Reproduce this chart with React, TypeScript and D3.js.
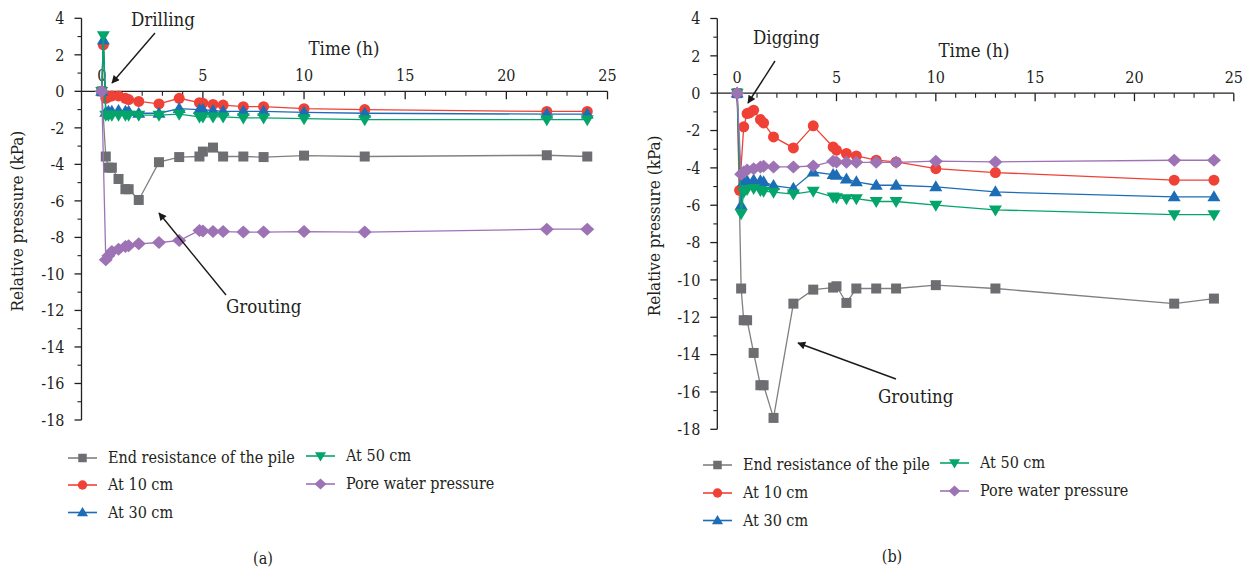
import React from "react";
import * as d3 from "d3";

// Sampling times (h)
const hoursPeak = [0, 0.08, 0.2, 0.33, 0.5, 0.83, 1.17, 1.33, 1.83, 2.83, 3.83, 4.83, 5, 5.5, 6, 7, 8, 10, 13, 22, 24];
const hoursMain = [0, 0.2, 0.33, 0.5, 0.83, 1.17, 1.33, 1.83, 2.83, 3.83, 4.83, 5, 5.5, 6, 7, 8, 10, 13, 22, 24];
const hoursDig = [0, 0.12, 0.33, 0.5, 0.62, 0.83, 1.17, 1.33, 1.83, 2.83, 3.83, 4.83, 5, 5.5, 6, 7, 8, 10, 13, 22, 24];

// (a) drilling — relative pressure (kPa)
const drillEnd = [0, -3.57, -4.18, -4.18, -4.8, -5.36, -5.36, -5.95, -3.88, -3.6, -3.57, -3.3, -3.08, -3.57, -3.57, -3.6, -3.52, -3.57, -3.5, -3.57];
const drill10 = [0, 2.55, -0.38, -0.3, -0.25, -0.25, -0.38, -0.45, -0.55, -0.69, -0.38, -0.62, -0.65, -0.72, -0.75, -0.84, -0.84, -0.95, -1.0, -1.1, -1.1];
const drill30 = [0, 2.8, -1.15, -1.1, -1.1, -1.05, -1.1, -1.1, -1.2, -1.2, -0.95, -1.0, -1.0, -1.05, -1.1, -1.1, -1.1, -1.15, -1.2, -1.25, -1.25];
const drill50 = [0, 3.05, -1.3, -1.3, -1.3, -1.3, -1.3, -1.3, -1.3, -1.3, -1.25, -1.4, -1.4, -1.4, -1.4, -1.45, -1.45, -1.5, -1.55, -1.55, -1.55];
const drillPore = [0, -9.23, -9.0, -8.77, -8.65, -8.5, -8.45, -8.35, -8.28, -8.17, -7.62, -7.65, -7.68, -7.68, -7.71, -7.71, -7.68, -7.71, -7.55, -7.55];

// (b) digging — relative pressure (kPa)
const digEnd = [0, -10.46, -12.16, -12.16, -13.91, -15.64, -15.64, -17.39, -11.27, -10.52, -10.41, -10.34, -11.23, -10.46, -10.46, -10.46, -10.28, -10.46, -11.27, -11.0];
const dig10 = [0, -5.2, -1.8, -1.09, -1.05, -0.91, -1.41, -1.59, -2.34, -2.93, -1.75, -2.88, -3.05, -3.23, -3.36, -3.59, -3.68, -4.04, -4.25, -4.66, -4.66];
const dig30 = [0, -6.0, -4.75, -4.7, -4.66, -4.7, -4.75, -4.95, -5.1, -4.22, -4.36, -4.4, -4.6, -4.75, -4.93, -4.93, -5.02, -5.29, -5.55, -5.55];
const dig50 = [0, -6.45, -5.3, -5.15, -5.1, -5.2, -5.25, -5.3, -5.4, -5.25, -5.55, -5.6, -5.65, -5.65, -5.8, -5.8, -6.0, -6.25, -6.5, -6.5];
const digPore = [0, -4.34, -4.22, -4.12, -4.04, -3.95, -3.91, -3.95, -3.95, -3.9, -3.64, -3.68, -3.7, -3.7, -3.7, -3.7, -3.64, -3.68, -3.59, -3.59];

const seriesNames = ["End resistance of the pile", "At 10 cm", "At 30 cm", "At 50 cm", "Pore water pressure"];
const xTicks = [0, 5, 10, 15, 20, 25];
const yTicks = [4, 2, 0, -2, -4, -6, -8, -10, -12, -14, -16, -18];

type Marker = "square" | "circle" | "up" | "down" | "diamond";
const styles: { line: string; fill: string; marker: Marker }[] = [
  { line: "#808080", fill: "#6d6e71", marker: "square" },
  { line: "#ef4136", fill: "#ef4136", marker: "circle" },
  { line: "#1d6db6", fill: "#1d6db6", marker: "up" },
  { line: "#04a56b", fill: "#04a56b", marker: "down" },
  { line: "#9d73b5", fill: "#9d73b5", marker: "diamond" },
];

const FONT = "'DejaVu Serif Condensed', 'DejaVu Serif', serif";

function MarkerShape({ kind, x, y, fill, scale = 1 }: { kind: Marker; x: number; y: number; fill: string; scale?: number }) {
  const s = scale;
  if (kind === "square") return <rect x={x - 5 * s} y={y - 5 * s} width={10 * s} height={10 * s} fill={fill} />;
  if (kind === "circle") return <circle cx={x} cy={y} r={5.5 * s} fill={fill} />;
  if (kind === "up") {
    const h = 11 * s, w = 6.5 * s;
    return <path d={`M${x},${y - h * 0.6}L${x + w},${y + h * 0.4}L${x - w},${y + h * 0.4}Z`} fill={fill} />;
  }
  if (kind === "down") {
    const h = 11 * s, w = 6.5 * s;
    return <path d={`M${x},${y + h * 0.6}L${x + w},${y - h * 0.4}L${x - w},${y - h * 0.4}Z`} fill={fill} />;
  }
  const a = 7 * s, b = 6.5 * s;
  return <path d={`M${x},${y - b}L${x + a},${y}L${x},${y + b}L${x - a},${y}Z`} fill={fill} />;
}

type PanelProps = {
  xRange: [number, number];
  yRange: [number, number];
  data: { hours: number[]; values: number[] }[];
  note: { text: string; tx: number; ty: number; from: [number, number]; to: [number, number] }[];
  yLabelX: number;
  titleX: number;
  titleY: number;
  legend: { x1: number; x2: number; rows: number[]; rows2: number[] };
  caption: { x: number; y: number; text: string };
  id: string;
};

function Panel(p: PanelProps) {
  const x = d3.scaleLinear().domain([-1, 25]).range(p.xRange);
  const y = d3.scaleLinear().domain([4, -18]).range(p.yRange);
  const axisX = p.xRange[0];
  const y0 = y(0);
  const minorX = d3.range(1, 25).filter((v) => v % 5 !== 0);
  const minorY = d3.range(-17, 4, 2);
  const line = d3
    .line<[number, number]>()
    .x((d) => x(d[0]))
    .y((d) => y(d[1]));

  return (
    <g>
      <defs>
        <marker id={`arrow-${p.id}`} viewBox="0 0 10 10" refX="9" refY="5" markerWidth="11" markerHeight="8" markerUnits="userSpaceOnUse" orient="auto">
          <path d="M0,0L10,5L0,10Z" fill="#1a1a1a" />
        </marker>
      </defs>
      {/* y axis */}
      <line x1={axisX} x2={axisX} y1={y(4)} y2={y(-18)} stroke="#231f20" strokeWidth={1.3} />
      {yTicks.map((t) => (
        <g key={`yt${t}`}>
          <line x1={axisX - 7} x2={axisX} y1={y(t)} y2={y(t)} stroke="#231f20" strokeWidth={1.3} />
          <text x={axisX - 17} y={y(t)} dy="0.36em" textAnchor="end" fontSize={16} fontFamily={FONT} fill="#231f20">
            {String(t)}
          </text>
        </g>
      ))}
      {minorY.map((t) => (
        <line key={`ym${t}`} x1={axisX - 4} x2={axisX} y1={y(t)} y2={y(t)} stroke="#231f20" strokeWidth={1.1} />
      ))}
      <text
        transform={`translate(${p.yLabelX},${(y(4) + y(-18)) / 2 + 2}) rotate(-90)`}
        textAnchor="middle"
        fontSize={17}
        fontFamily={FONT}
        fill="#231f20"
      >
        Relative pressure (kPa)
      </text>
      {/* x axis at zero */}
      <line x1={axisX} x2={x(25)} y1={y0} y2={y0} stroke="#231f20" strokeWidth={1.3} />
      {xTicks.map((t) => (
        <g key={`xt${t}`}>
          <line x1={x(t)} x2={x(t)} y1={y0} y2={y0 + 8} stroke="#231f20" strokeWidth={1.3} />
          <text x={x(t)} y={y0 - 10} textAnchor="middle" fontSize={16} fontFamily={FONT} fill="#231f20">
            {String(t)}
          </text>
        </g>
      ))}
      {minorX.map((t) => (
        <line key={`xm${t}`} x1={x(t)} x2={x(t)} y1={y0} y2={y0 + 4.5} stroke="#231f20" strokeWidth={1.1} />
      ))}
      <text x={p.titleX} y={p.titleY} textAnchor="middle" fontSize={18.5} fontFamily={FONT} fill="#231f20">
        Time (h)
      </text>
      {/* series */}
      {p.data.map((s, i) => {
        const pts = s.hours.map((h, k) => [h, s.values[k]] as [number, number]);
        return (
          <g key={`s${i}`}>
            <path d={line(pts) || ""} fill="none" stroke={styles[i].line} strokeWidth={1.3} />
            {pts.map((d, k) => (
              <MarkerShape key={k} kind={styles[i].marker} x={x(d[0])} y={y(d[1])} fill={styles[i].fill} />
            ))}
          </g>
        );
      })}
      {/* annotations */}
      {p.note.map((n, i) => (
        <g key={`n${i}`}>
          <line x1={n.from[0]} y1={n.from[1]} x2={n.to[0]} y2={n.to[1]} stroke="#1a1a1a" strokeWidth={1.4} markerEnd={`url(#arrow-${p.id})`} />
          <text x={n.tx} y={n.ty} fontSize={18.5} fontFamily={FONT} fill="#231f20">
            {n.text}
          </text>
        </g>
      ))}
      {/* legend */}
      {seriesNames.map((name, i) => {
        const col = i < 3 ? 0 : 1;
        const lx = col === 0 ? p.legend.x1 : p.legend.x2;
        const ly = col === 0 ? p.legend.rows[i] : p.legend.rows2[i - 3];
        return (
          <g key={`l${i}`}>
            <line x1={lx} x2={lx + 29} y1={ly} y2={ly} stroke={styles[i].line} strokeWidth={1.6} />
            <MarkerShape kind={styles[i].marker} x={lx + 14.5} y={ly} fill={styles[i].fill} scale={0.85} />
            <text x={lx + 40} y={ly} dy="0.34em" fontSize={16} fontFamily={FONT} fill="#231f20">
              {name}
            </text>
          </g>
        );
      })}
      <text x={p.caption.x} y={p.caption.y} dy="0.34em" textAnchor="middle" fontSize={16} fontFamily={FONT} fill="#231f20">
        {p.caption.text}
      </text>
    </g>
  );
}

export default function App() {
  return (
    <svg width={1253} height={573} style={{ position: "absolute", left: 0, top: 0, background: "#fff" }}>
      <rect width={1253} height={573} fill="#fff" />
      <Panel
        id="a"
        xRange={[81.5, 607.5]}
        yRange={[18.3, 420]}
        data={[
          { hours: hoursMain, values: drillEnd },
          { hours: hoursPeak, values: drill10 },
          { hours: hoursPeak, values: drill30 },
          { hours: hoursPeak, values: drill50 },
          { hours: hoursMain, values: drillPore },
        ]}
        note={[
          { text: "Drilling", tx: 131, ty: 26, from: [155, 33], to: [112, 83] },
          { text: "Grouting", tx: 226, ty: 313, from: [226, 295], to: [159, 213] },
        ]}
        yLabelX={23}
        titleX={344}
        titleY={55}
        legend={{ x1: 68, x2: 306, rows: [458, 485, 512.5], rows2: [456, 484] }}
        caption={{ x: 263, y: 559, text: "(a)" }}
      />
      <Panel
        id="b"
        xRange={[717.3, 1233.8]}
        yRange={[18.5, 429.3]}
        data={[
          { hours: hoursMain, values: digEnd },
          { hours: hoursDig, values: dig10 },
          { hours: hoursMain, values: dig30 },
          { hours: hoursMain, values: dig50 },
          { hours: hoursMain, values: digPore },
        ]}
        note={[
          { text: "Digging", tx: 753, ty: 44, from: [775, 61], to: [748, 103] },
          { text: "Grouting", tx: 878, ty: 403, from: [896, 379], to: [798, 343] },
        ]}
        yLabelX={660}
        titleX={974}
        titleY={57}
        legend={{ x1: 703, x2: 940, rows: [465, 493, 520.5], rows2: [463, 491] }}
        caption={{ x: 892, y: 557, text: "(b)" }}
      />
    </svg>
  );
}
